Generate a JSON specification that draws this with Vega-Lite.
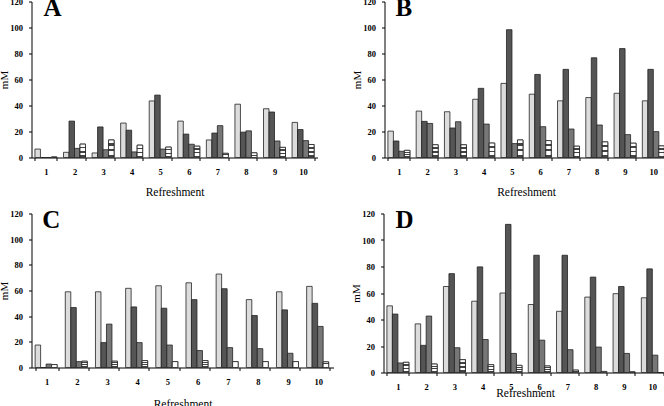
{
  "$schema": "https://vega.github.io/schema/vega-lite/v6.json",
  "padding": {"top": -4.5, "left": -1.5, "right": 0, "bottom": 0},
  "autosize": {"type": "pad"},
  "background": "white",
  "config": {
    "view": {"stroke": null},
    "font": "Liberation Serif",
    "axis": {"labelFont": "Liberation Serif", "titleFont": "Liberation Serif", "domainColor": "black", "tickColor": "black", "labelColor": "black", "titleColor": "black", "grid": false, "domainWidth": 1, "tickWidth": 1},
    "axisY": {"values": [0, 20, 40, 60, 80, 100, 120], "labelFontWeight": "bold", "labelFontSize": 8.5, "tickSize": 3, "labelPadding": 6, "titleFontSize": 11, "titleFontWeight": "normal", "titlePadding": 0},
    "axisX": {"labelAngle": 0, "labelFontWeight": "bold", "labelFontSize": 8.5, "tickSize": 3, "labelPadding": 7, "titleFontSize": 11.5, "titleFontWeight": "normal", "titlePadding": 10.5, "tickBand": "extent"},
    "text": {"font": "Liberation Serif", "fontSize": 25, "fontWeight": "bold", "color": "black", "align": "left", "baseline": "alphabetic"}
  },
  "datasets": {
    "bars": [
      {"p":"A","r":1,"s":"1","v":6.5},{"p":"A","r":1,"s":"2","v":0},{"p":"A","r":1,"s":"3","v":0},{"p":"A","r":1,"s":"4","v":0.4},
      {"p":"A","r":2,"s":"1","v":4},{"p":"A","r":2,"s":"2","v":28},{"p":"A","r":2,"s":"3","v":7},{"p":"A","r":2,"s":"4","v":10.3},
      {"p":"A","r":3,"s":"1","v":3.5},{"p":"A","r":3,"s":"2","v":23.5},{"p":"A","r":3,"s":"3","v":6},{"p":"A","r":3,"s":"4","v":13.5},
      {"p":"A","r":4,"s":"1","v":26.5},{"p":"A","r":4,"s":"2","v":21},{"p":"A","r":4,"s":"3","v":4.3},{"p":"A","r":4,"s":"4","v":9.5},
      {"p":"A","r":5,"s":"1","v":43.5},{"p":"A","r":5,"s":"2","v":48},{"p":"A","r":5,"s":"3","v":6.5},{"p":"A","r":5,"s":"4","v":8},
      {"p":"A","r":6,"s":"1","v":28},{"p":"A","r":6,"s":"2","v":18},{"p":"A","r":6,"s":"3","v":10.2},{"p":"A","r":6,"s":"4","v":8.7},
      {"p":"A","r":7,"s":"1","v":13.5},{"p":"A","r":7,"s":"2","v":18.8},{"p":"A","r":7,"s":"3","v":24.5},{"p":"A","r":7,"s":"4","v":3.2},
      {"p":"A","r":8,"s":"1","v":41},{"p":"A","r":8,"s":"2","v":19.5},{"p":"A","r":8,"s":"3","v":20.5},{"p":"A","r":8,"s":"4","v":3.6},
      {"p":"A","r":9,"s":"1","v":37.5},{"p":"A","r":9,"s":"2","v":35},{"p":"A","r":9,"s":"3","v":12.7},{"p":"A","r":9,"s":"4","v":7.8},
      {"p":"A","r":10,"s":"1","v":27},{"p":"A","r":10,"s":"2","v":21.5},{"p":"A","r":10,"s":"3","v":13},{"p":"A","r":10,"s":"4","v":10},
      {"p":"B","r":1,"s":"1","v":20.3},{"p":"B","r":1,"s":"2","v":12.7},{"p":"B","r":1,"s":"3","v":4.8},{"p":"B","r":1,"s":"4","v":5.5},
      {"p":"B","r":2,"s":"1","v":35.7},{"p":"B","r":2,"s":"2","v":27.8},{"p":"B","r":2,"s":"3","v":26.2},{"p":"B","r":2,"s":"4","v":9.8},
      {"p":"B","r":3,"s":"1","v":35.2},{"p":"B","r":3,"s":"2","v":22.7},{"p":"B","r":3,"s":"3","v":27.5},{"p":"B","r":3,"s":"4","v":9.8},
      {"p":"B","r":4,"s":"1","v":44.8},{"p":"B","r":4,"s":"2","v":53.2},{"p":"B","r":4,"s":"3","v":25.7},{"p":"B","r":4,"s":"4","v":11.1},
      {"p":"B","r":5,"s":"1","v":57},{"p":"B","r":5,"s":"2","v":98.3},{"p":"B","r":5,"s":"3","v":10.7},{"p":"B","r":5,"s":"4","v":13.5},
      {"p":"B","r":6,"s":"1","v":48.7},{"p":"B","r":6,"s":"2","v":63.9},{"p":"B","r":6,"s":"3","v":23.7},{"p":"B","r":6,"s":"4","v":13},
      {"p":"B","r":7,"s":"1","v":43.6},{"p":"B","r":7,"s":"2","v":67.8},{"p":"B","r":7,"s":"3","v":21.9},{"p":"B","r":7,"s":"4","v":8.7},
      {"p":"B","r":8,"s":"1","v":46.1},{"p":"B","r":8,"s":"2","v":76.7},{"p":"B","r":8,"s":"3","v":25},{"p":"B","r":8,"s":"4","v":12},
      {"p":"B","r":9,"s":"1","v":49.4},{"p":"B","r":9,"s":"2","v":83.8},{"p":"B","r":9,"s":"3","v":17.6},{"p":"B","r":9,"s":"4","v":11},
      {"p":"B","r":10,"s":"1","v":43.6},{"p":"B","r":10,"s":"2","v":67.8},{"p":"B","r":10,"s":"3","v":19.9},{"p":"B","r":10,"s":"4","v":8.9},
      {"p":"C","r":1,"s":"1","v":17.5},{"p":"C","r":1,"s":"2","v":0},{"p":"C","r":1,"s":"3","v":2.7},{"p":"C","r":1,"s":"4","v":2.3},
      {"p":"C","r":2,"s":"1","v":59},{"p":"C","r":2,"s":"2","v":46.7},{"p":"C","r":2,"s":"3","v":4.6},{"p":"C","r":2,"s":"4","v":4.9},
      {"p":"C","r":3,"s":"1","v":59},{"p":"C","r":3,"s":"2","v":19.4},{"p":"C","r":3,"s":"3","v":33.8},{"p":"C","r":3,"s":"4","v":4.9},
      {"p":"C","r":4,"s":"1","v":61.7},{"p":"C","r":4,"s":"2","v":47.2},{"p":"C","r":4,"s":"3","v":19.4},{"p":"C","r":4,"s":"4","v":5.4},
      {"p":"C","r":5,"s":"1","v":63.7},{"p":"C","r":5,"s":"2","v":46.2},{"p":"C","r":5,"s":"3","v":17.5},{"p":"C","r":5,"s":"4","v":4.6},
      {"p":"C","r":6,"s":"1","v":66},{"p":"C","r":6,"s":"2","v":52.9},{"p":"C","r":6,"s":"3","v":13.2},{"p":"C","r":6,"s":"4","v":5.4},
      {"p":"C","r":7,"s":"1","v":72.8},{"p":"C","r":7,"s":"2","v":61.4},{"p":"C","r":7,"s":"3","v":15.5},{"p":"C","r":7,"s":"4","v":4.6},
      {"p":"C","r":8,"s":"1","v":52.9},{"p":"C","r":8,"s":"2","v":40.5},{"p":"C","r":8,"s":"3","v":14.7},{"p":"C","r":8,"s":"4","v":4.6},
      {"p":"C","r":9,"s":"1","v":59},{"p":"C","r":9,"s":"2","v":44.9},{"p":"C","r":9,"s":"3","v":11.1},{"p":"C","r":9,"s":"4","v":4.6},
      {"p":"C","r":10,"s":"1","v":63.2},{"p":"C","r":10,"s":"2","v":50},{"p":"C","r":10,"s":"3","v":32},{"p":"C","r":10,"s":"4","v":4.4},
      {"p":"D","r":1,"s":"1","v":50.3},{"p":"D","r":1,"s":"2","v":44.1},{"p":"D","r":1,"s":"3","v":7.2},{"p":"D","r":1,"s":"4","v":7.7},
      {"p":"D","r":2,"s":"1","v":36.7},{"p":"D","r":2,"s":"2","v":20.5},{"p":"D","r":2,"s":"3","v":42.6},{"p":"D","r":2,"s":"4","v":6.4},
      {"p":"D","r":3,"s":"1","v":64.9},{"p":"D","r":3,"s":"2","v":74.6},{"p":"D","r":3,"s":"3","v":18.7},{"p":"D","r":3,"s":"4","v":9.7},
      {"p":"D","r":4,"s":"1","v":53.8},{"p":"D","r":4,"s":"2","v":79.7},{"p":"D","r":4,"s":"3","v":24.9},{"p":"D","r":4,"s":"4","v":5.9},
      {"p":"D","r":5,"s":"1","v":60},{"p":"D","r":5,"s":"2","v":111.8},{"p":"D","r":5,"s":"3","v":14.4},{"p":"D","r":5,"s":"4","v":5.4},
      {"p":"D","r":6,"s":"1","v":51.3},{"p":"D","r":6,"s":"2","v":88.5},{"p":"D","r":6,"s":"3","v":24.4},{"p":"D","r":6,"s":"4","v":4.9},
      {"p":"D","r":7,"s":"1","v":46.2},{"p":"D","r":7,"s":"2","v":88.5},{"p":"D","r":7,"s":"3","v":17.2},{"p":"D","r":7,"s":"4","v":1.8},
      {"p":"D","r":8,"s":"1","v":56.9},{"p":"D","r":8,"s":"2","v":72},{"p":"D","r":8,"s":"3","v":19.2},{"p":"D","r":8,"s":"4","v":0.8},
      {"p":"D","r":9,"s":"1","v":59.5},{"p":"D","r":9,"s":"2","v":64.9},{"p":"D","r":9,"s":"3","v":14.4},{"p":"D","r":9,"s":"4","v":0.5},
      {"p":"D","r":10,"s":"1","v":56.4},{"p":"D","r":10,"s":"2","v":78.2},{"p":"D","r":10,"s":"3","v":13.1},{"p":"D","r":10,"s":"4","v":0}
    ]
  },
  "data": {"name": "bars"},
  "spacing": 9,
  "vconcat": [
    {
      "hconcat": [
        {
          "width": 286, "height": 156,
          "transform": [{"filter": "datum.p === 'A'"}],
          "encoding": {
            "x": {"field": "r", "type": "ordinal", "scale": {"paddingInner": 0.23, "paddingOuter": 0.12}, "axis": {"title": "Refreshment"}},
            "xOffset": {"field": "s", "scale": {"domain": ["1", "2", "3", "4"]}},
            "y": {"field": "v", "type": "quantitative", "scale": {"domain": [0, 120]}, "axis": {"title": "mM"}}
          },
          "layer": [
            {"mark": {"type": "bar", "stroke": "#222", "strokeWidth": 0.8}, "encoding": {"fill": {"field": "s", "legend": null, "scale": {"domain": ["1", "2", "3", "4"], "range": ["#dcdcdc", "#555555", "#777777", "#ffffff"]}}}},
            {"transform": [{"filter": "datum.s === '4'"}], "mark": {"type": "bar", "stroke": "#222", "strokeWidth": 0.8, "fill": {"gradient": "linear", "x1": 0, "y1": 0, "x2": 0, "y2": 1, "stops": [{"offset": 0, "color": "#ffffff"}, {"offset": 0.2, "color": "#ffffff"}, {"offset": 0.2, "color": "#444444"}, {"offset": 0.32, "color": "#444444"}, {"offset": 0.32, "color": "#ffffff"}, {"offset": 0.52, "color": "#ffffff"}, {"offset": 0.52, "color": "#444444"}, {"offset": 0.64, "color": "#444444"}, {"offset": 0.64, "color": "#ffffff"}, {"offset": 0.84, "color": "#ffffff"}, {"offset": 0.84, "color": "#444444"}, {"offset": 0.96, "color": "#444444"}, {"offset": 0.96, "color": "#ffffff"}, {"offset": 1, "color": "#ffffff"}]}}},
            {"transform": [{"filter": "datum.r === 1 && datum.s === '1'"}], "mark": {"type": "text", "text": "A", "dx": 5.8, "dy": 14}, "encoding": {"y": {"datum": 120}}}
          ]
        },
        {
          "width": 283, "height": 156,
          "transform": [{"filter": "datum.p === 'B'"}],
          "encoding": {
            "x": {"field": "r", "type": "ordinal", "scale": {"paddingInner": 0.23, "paddingOuter": 0.12}, "axis": {"title": "Refreshment"}},
            "xOffset": {"field": "s", "scale": {"domain": ["1", "2", "3", "4"]}},
            "y": {"field": "v", "type": "quantitative", "scale": {"domain": [0, 120]}, "axis": {"title": "mM"}}
          },
          "layer": [
            {"mark": {"type": "bar", "stroke": "#222", "strokeWidth": 0.8}, "encoding": {"fill": {"field": "s", "legend": null, "scale": {"domain": ["1", "2", "3", "4"], "range": ["#dcdcdc", "#555555", "#777777", "#ffffff"]}}}},
            {"transform": [{"filter": "datum.s === '4'"}], "mark": {"type": "bar", "stroke": "#222", "strokeWidth": 0.8, "fill": {"gradient": "linear", "x1": 0, "y1": 0, "x2": 0, "y2": 1, "stops": [{"offset": 0, "color": "#ffffff"}, {"offset": 0.2, "color": "#ffffff"}, {"offset": 0.2, "color": "#444444"}, {"offset": 0.32, "color": "#444444"}, {"offset": 0.32, "color": "#ffffff"}, {"offset": 0.52, "color": "#ffffff"}, {"offset": 0.52, "color": "#444444"}, {"offset": 0.64, "color": "#444444"}, {"offset": 0.64, "color": "#ffffff"}, {"offset": 0.84, "color": "#ffffff"}, {"offset": 0.84, "color": "#444444"}, {"offset": 0.96, "color": "#444444"}, {"offset": 0.96, "color": "#ffffff"}, {"offset": 1, "color": "#ffffff"}]}}},
            {"transform": [{"filter": "datum.r === 1 && datum.s === '1'"}], "mark": {"type": "text", "text": "B", "dx": 4.8, "dy": 14}, "encoding": {"y": {"datum": 120}}}
          ]
        }
      ],
      "spacing": 67,
      "bounds": "flush"
    },
    {
      "hconcat": [
        {
          "width": 302, "height": 154,
          "transform": [{"filter": "datum.p === 'C'"}],
          "encoding": {
            "x": {"field": "r", "type": "ordinal", "scale": {"paddingInner": 0.23, "paddingOuter": 0.12}, "axis": {"title": "Refreshment", "titlePadding": 12.5}},
            "xOffset": {"field": "s", "scale": {"domain": ["1", "2", "3", "4"]}},
            "y": {"field": "v", "type": "quantitative", "scale": {"domain": [0, 120]}, "axis": {"title": "mM"}}
          },
          "layer": [
            {"mark": {"type": "bar", "stroke": "#222", "strokeWidth": 0.8}, "encoding": {"fill": {"field": "s", "legend": null, "scale": {"domain": ["1", "2", "3", "4"], "range": ["#dcdcdc", "#555555", "#777777", "#ffffff"]}}}},
            {"transform": [{"filter": "datum.s === '4'"}], "mark": {"type": "bar", "stroke": "#222", "strokeWidth": 0.8, "fill": {"gradient": "linear", "x1": 0, "y1": 0, "x2": 0, "y2": 1, "stops": [{"offset": 0, "color": "#ffffff"}, {"offset": 0.2, "color": "#ffffff"}, {"offset": 0.2, "color": "#444444"}, {"offset": 0.32, "color": "#444444"}, {"offset": 0.32, "color": "#ffffff"}, {"offset": 0.52, "color": "#ffffff"}, {"offset": 0.52, "color": "#444444"}, {"offset": 0.64, "color": "#444444"}, {"offset": 0.64, "color": "#ffffff"}, {"offset": 0.84, "color": "#ffffff"}, {"offset": 0.84, "color": "#444444"}, {"offset": 0.96, "color": "#444444"}, {"offset": 0.96, "color": "#ffffff"}, {"offset": 1, "color": "#ffffff"}]}}},
            {"transform": [{"filter": "datum.r === 1 && datum.s === '1'"}], "mark": {"type": "text", "text": "C", "dx": 4.5, "dy": 14}, "encoding": {"y": {"datum": 120}}}
          ]
        },
        {
          "width": 283, "height": 159,
          "transform": [{"filter": "datum.p === 'D'"}],
          "encoding": {
            "x": {"field": "r", "type": "ordinal", "scale": {"paddingInner": 0.23, "paddingOuter": 0.12}, "axis": {"title": "Refreshment", "titlePadding": -4}},
            "xOffset": {"field": "s", "scale": {"domain": ["1", "2", "3", "4"]}},
            "y": {"field": "v", "type": "quantitative", "scale": {"domain": [0, 120]}, "axis": {"title": "mM"}}
          },
          "layer": [
            {"mark": {"type": "bar", "stroke": "#222", "strokeWidth": 0.8}, "encoding": {"fill": {"field": "s", "legend": null, "scale": {"domain": ["1", "2", "3", "4"], "range": ["#dcdcdc", "#555555", "#777777", "#ffffff"]}}}},
            {"transform": [{"filter": "datum.s === '4'"}], "mark": {"type": "bar", "stroke": "#222", "strokeWidth": 0.8, "fill": {"gradient": "linear", "x1": 0, "y1": 0, "x2": 0, "y2": 1, "stops": [{"offset": 0, "color": "#ffffff"}, {"offset": 0.2, "color": "#ffffff"}, {"offset": 0.2, "color": "#444444"}, {"offset": 0.32, "color": "#444444"}, {"offset": 0.32, "color": "#ffffff"}, {"offset": 0.52, "color": "#ffffff"}, {"offset": 0.52, "color": "#444444"}, {"offset": 0.64, "color": "#444444"}, {"offset": 0.64, "color": "#ffffff"}, {"offset": 0.84, "color": "#ffffff"}, {"offset": 0.84, "color": "#444444"}, {"offset": 0.96, "color": "#444444"}, {"offset": 0.96, "color": "#ffffff"}, {"offset": 1, "color": "#ffffff"}]}}},
            {"transform": [{"filter": "datum.r === 1 && datum.s === '1'"}], "mark": {"type": "text", "text": "D", "dx": 5.9, "dy": 14}, "encoding": {"y": {"datum": 120}}}
          ]
        }
      ],
      "spacing": 50,
      "bounds": "flush"
    }
  ]
}
